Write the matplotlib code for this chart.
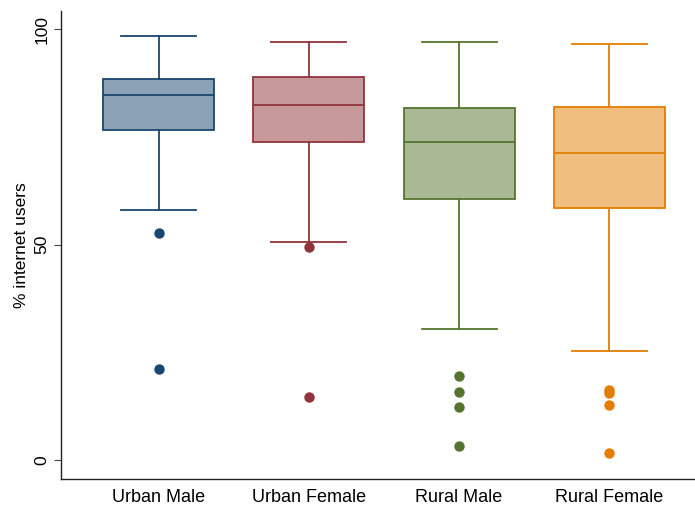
import matplotlib.pyplot as plt

plt.rcParams['font.family'] = ['Liberation Sans', 'DejaVu Sans']

groups = ['Urban Male', 'Urban Female', 'Rural Male', 'Rural Female']
colors = ['#1a476f', '#90353b', '#55752f', '#e37e00']

# box summaries (% internet users)
whisker_lo = [58.1, 50.7, 30.3, 25.4]
q1 = [76.6, 73.7, 60.6, 58.6]
median = [84.6, 82.4, 73.7, 71.3]
q3 = [88.5, 88.9, 81.8, 81.9]
whisker_hi = [98.4, 97.0, 96.9, 96.5]
outliers = [
    [52.6, 21.2],
    [49.4, 14.6],
    [19.4, 15.8, 12.4, 3.3],
    [16.2, 15.6, 12.7, 1.7],
]

stats = []
for i, g in enumerate(groups):
    stats.append({'label': g, 'whislo': whisker_lo[i], 'q1': q1[i], 'med': median[i],
                  'q3': q3[i], 'whishi': whisker_hi[i], 'fliers': outliers[i]})

fig = plt.figure(figsize=(6.95, 5.05), dpi=100)
ax = fig.add_axes([61 / 695, 26 / 505, 634 / 695, 468 / 505])

for i, s in enumerate(stats):
    c = colors[i]
    ax.bxp([s], positions=[i + 1], widths=0.74, capwidths=0.5, patch_artist=True,
           boxprops=dict(facecolor=c + '80', edgecolor=c, linewidth=1.3),
           medianprops=dict(color=c, linewidth=1.3),
           whiskerprops=dict(color=c, linewidth=1.3),
           capprops=dict(color=c, linewidth=1.3),
           flierprops=dict(marker='o', markerfacecolor=c, markeredgecolor='none', markersize=7.5))

ax.set_xlim(0.347, 4.573)
ax.set_ylim(-4.4, 104.2)
ax.set_yticks([0, 50, 100])
ax.set_yticklabels(['0', '50', '100'], rotation=90, va='center', fontsize=12.5)
ax.set_xticks([1, 2, 3, 4])
ax.set_xticklabels(groups, fontsize=13)
ax.tick_params(axis='x', length=0, pad=7)
ax.tick_params(axis='y', length=5, width=0.8, color='#444444')
ax.set_ylabel('% internet users', fontsize=12.5)
ax.spines['top'].set_visible(False)
ax.spines['right'].set_visible(False)
for sp in ['left', 'bottom']:
    ax.spines[sp].set_linewidth(1.0)
    ax.spines[sp].set_color('#222222')

fig.savefig('out.png', dpi=100)
